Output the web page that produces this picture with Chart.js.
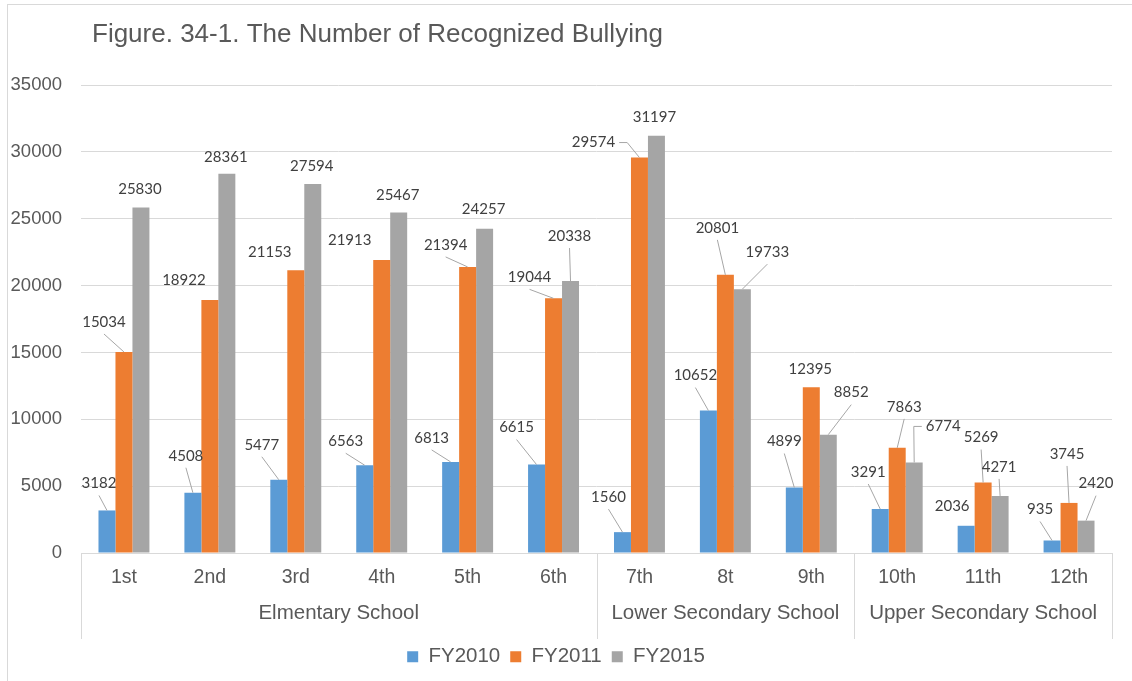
<!DOCTYPE html>
<html>
<head>
<meta charset="utf-8">
<title>Figure. 34-1. The Number of Recognized Bullying</title>
<script src="https://cdn.jsdelivr.net/npm/chart.js@4.4.1/dist/chart.umd.min.js"></script>
<style>
  body{margin:0;background:#fff;overflow:hidden;}
  #wrap{position:relative;width:1132px;height:681px;}
  #frame{position:absolute;left:7px;top:4px;width:1200px;height:700px;border-left:1px solid #d9d9d9;border-top:1px solid #d9d9d9;pointer-events:none;}
</style>
</head>
<body>
<div id="wrap">
  <canvas id="chart" width="1132" height="681"></canvas>
  <div id="frame"></div>
</div>
<script>
"use strict";

const chartTitle = 'Figure. 34-1. The Number of Recognized Bullying';
const grades = ['1st', '2nd', '3rd', '4th', '5th', '6th', '7th', '8t', '9th', '10th', '11th', '12th'];
const schools = ['Elmentary School', 'Lower Secondary School', 'Upper Secondary School'];
const schoolSizes = [6, 3, 3];
const seriesNames = ['FY2010', 'FY2011', 'FY2015'];
const fy2010 = [3182, 4508, 5477, 6563, 6813, 6615, 1560, 10652, 4899, 3291, 2036, 935];
const fy2011 = [15034, 18922, 21153, 21913, 21394, 19044, 29574, 20801, 12395, 7863, 5269, 3745];
const fy2015 = [25830, 28361, 27594, 25467, 24257, 20338, 31197, 19733, 8852, 6774, 4271, 2420];
const yTicks = [0, 5000, 10000, 15000, 20000, 25000, 30000, 35000];

// where the value labels sit, in px from the top of their bar (moved by hand in the original)
const nudge2010 = [[-8,-27],[-7,-37],[-17,-35],[-19,-24],[-19,-24],[-20,-37],[-14,-35],[-13,-35],[-10,-46],[-12,-37],[-14,-20],[-12,-31]];
const nudge2011 = [[-20,-30],[-26,-20],[-26,-18],[-32,-20],[-22,-22],[-24,-21],[-46,-15],[-8,-47],[-1,-18],[7,-41],[-2,-45],[-2,-49]];
const nudge2015 = [[-1,-18],[-1,-17],[-1,-18],[-1,-17],[-1,-19],[-1,-45],[-2,-19],[25,-37],[23,-42],[29,-36],[-1,-29],[10,-37]];
// 0 = no leader line, 1 = straight leader, 2 = leader leaving from the side
const leader2010 = [1,1,1,1,1,1,1,1,1,1,0,1];
const leader2011 = [1,0,0,0,1,1,2,1,0,1,1,1];
const leader2015 = [0,0,0,0,0,1,0,1,1,2,1,1];

const colors = ['#5B9BD5', '#ED7D31', '#A5A5A5'];
const textColor = '#595959';
const lineColor = '#d9d9d9';
const font = '"Liberation Sans", Arial, sans-serif';

const barLabels = {
  id: 'barLabels',
  afterDatasetsDraw(chart) {
    const ctx = chart.ctx;
    ctx.save();
    ctx.font = '15px Lato, "Open Sans", sans-serif';
    ctx.textAlign = 'center';
    ctx.textBaseline = 'middle';
    ctx.strokeStyle = '#a6a6a6';
    ctx.lineWidth = 1;
    chart.data.datasets.forEach((ds, d) => {
      const meta = chart.getDatasetMeta(d);
      meta.data.forEach((bar, i) => {
        const lx = bar.x + ds.nudge[i][0];
        const ly = bar.y + ds.nudge[i][1];
        const txt = String(ds.data[i]);
        const w = ctx.measureText(txt).width;
        if (ds.leader[i] == 1) {
          ctx.beginPath();
          ctx.moveTo(lx, ly + 12);
          ctx.lineTo(bar.x, bar.y);
          ctx.stroke();
        } else if (ds.leader[i] == 2) {
          const side = bar.x > lx ? 1 : -1;
          const sx = lx + side * (w / 2 + 4);
          ctx.beginPath();
          ctx.moveTo(sx, ly);
          ctx.lineTo(sx + side * 8, ly);
          ctx.lineTo(bar.x, bar.y);
          ctx.stroke();
        }
        ctx.fillStyle = '#404040';
        ctx.fillText(txt, lx, ly);
      });
    });
    ctx.restore();
  }
};

// second row of the category axis + the title
const schoolAxis = {
  id: 'schoolAxis',
  afterDraw(chart) {
    const x = chart.scales.x;
    const ctx = chart.ctx;
    const half = (x.getPixelForValue(1) - x.getPixelForValue(0)) / 2;
    const top = chart.chartArea.bottom;
    const sep = p => {
      const px = Math.round(p) + 0.5;
      ctx.beginPath();
      ctx.moveTo(px, top);
      ctx.lineTo(px, top + 86);
      ctx.stroke();
    };
    ctx.save();
    ctx.strokeStyle = lineColor;
    ctx.lineWidth = 1;
    ctx.fillStyle = textColor;
    ctx.font = '20.5px ' + font;
    ctx.textAlign = 'center';
    ctx.textBaseline = 'middle';
    let start = 0;
    schools.forEach((name, g) => {
      const end = start + schoolSizes[g] - 1;
      const left = x.getPixelForValue(start) - half;
      const right = x.getPixelForValue(end) + half;
      if (g == 0) sep(left);
      sep(right);
      ctx.fillText(name, (left + right) / 2, top + 60.5);
      start = end + 1;
    });
    ctx.textAlign = 'left';
    ctx.textBaseline = 'alphabetic';
    ctx.font = '26px ' + font;
    ctx.fillText(chartTitle, 92, 42);
    ctx.restore();
  }
};

const datasets = [fy2010, fy2011, fy2015].map((vals, k) => ({
  label: seriesNames[k],
  data: vals,
  backgroundColor: colors[k],
  borderWidth: 0,
  categoryPercentage: 0.593,
  barPercentage: 1.0,
  nudge: [nudge2010, nudge2011, nudge2015][k],
  leader: [leader2010, leader2011, leader2015][k]
}));

new Chart(document.getElementById('chart'), {
  type: 'bar',
  data: { labels: grades, datasets: datasets },
  options: {
    responsive: false,
    animation: false,
    layout: { padding: { top: 85, left: 0, right: 20, bottom: 4 } },
    plugins: {
      tooltip: { enabled: false },
      title: { display: false },
      legend: {
        position: 'bottom',
        labels: {
          boxWidth: 11,
          boxHeight: 11,
          padding: 10,
          color: textColor,
          font: { family: font, size: 20.5 }
        }
      }
    },
    scales: {
      x: {
        grid: { display: false },
        border: { display: true, color: lineColor },
        ticks: { padding: 5, color: textColor, font: { family: font, size: 19.5 } },
        afterFit(scale) { scale.height = 83.5; }
      },
      y: {
        min: 0,
        max: 35000,
        afterBuildTicks(scale) { scale.ticks = yTicks.map(v => ({ value: v })); },
        grid: { color: lineColor, drawTicks: false },
        border: { display: false },
        ticks: {
          padding: 19,
          color: textColor,
          font: { family: font, size: 18.5 },
          callback: v => String(v)
        },
        afterFit(scale) { scale.width = 81; }
      }
    }
  },
  plugins: [barLabels, schoolAxis]
});
</script>
</body>
</html>
